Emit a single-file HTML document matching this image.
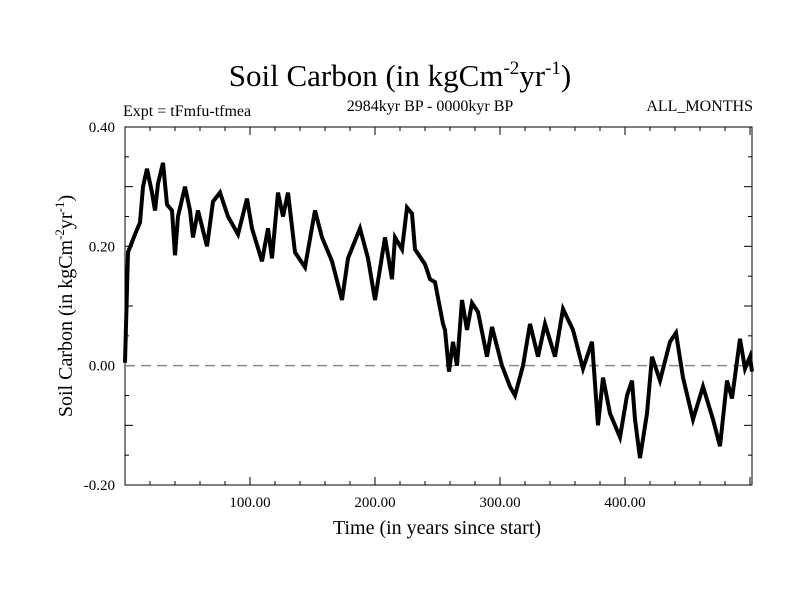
<!DOCTYPE html>
<html><head><meta charset="utf-8"><style>
body{margin:0;background:#fff}
svg{display:block;font-family:"Liberation Serif",serif}
</style></head><body>
<svg id="chart" width="800" height="600" viewBox="0 0 800 600">
<text x="400" y="86" text-anchor="middle" font-size="31">Soil Carbon (in kgCm<tspan dy="-12" font-size="19">-2</tspan><tspan dy="12">yr</tspan><tspan dy="-12" font-size="19">-1</tspan><tspan dy="12">)</tspan></text>
<text x="123" y="116" font-size="16">Expt = tFmfu-tfmea</text>
<text x="430" y="111" text-anchor="middle" font-size="16">2984kyr BP - 0000kyr BP</text>
<text x="753" y="111" text-anchor="end" font-size="16">ALL_MONTHS</text>
<g id="axes"></g>
<g id="plot"></g>
<text x="437" y="534" text-anchor="middle" font-size="20">Time (in years since start)</text>
<text transform="translate(72,306) rotate(-90)" text-anchor="middle" font-size="20">Soil Carbon (in kgCm<tspan dy="-8" font-size="13">-2</tspan><tspan dy="8">yr</tspan><tspan dy="-8" font-size="13">-1</tspan><tspan dy="8">)</tspan></text>
</svg>
<script>
const years=[0,2.4,8,12,14.4,17.6,21.6,24,26.4,30.4,33.6,37.6,40,42.4,48,52,54.4,58.4,65.6,70.4,76,82.4,90.4,97.6,101.6,109.6,114.4,117.6,122.4,126.4,130.4,136,144,152,157.6,165.6,173.6,178.4,188,194.4,200,208,213.6,216,221.6,225.6,229.6,232,240,244,248,254.4,256,259.2,262.4,265.6,269.6,273.6,277.6,282.4,289.6,293.6,301.6,308,312,318.4,324,330.4,336,344,350.4,358.4,366.4,373.6,378.4,382.4,388,396,401.6,405.6,408,412,417.6,421.6,428,436,440.8,446.4,454.4,462.4,470.4,476,481.6,485.6,492,496,500,501.6];
const carbon=[0.005,0.19,0.22,0.24,0.30,0.33,0.29,0.26,0.305,0.34,0.27,0.26,0.185,0.25,0.30,0.26,0.215,0.26,0.20,0.275,0.29,0.25,0.22,0.28,0.23,0.175,0.23,0.18,0.29,0.25,0.29,0.19,0.165,0.26,0.215,0.175,0.11,0.18,0.23,0.18,0.11,0.215,0.145,0.215,0.195,0.265,0.255,0.195,0.17,0.145,0.14,0.07,0.06,-0.01,0.04,0.0,0.11,0.06,0.105,0.09,0.015,0.065,0.0,-0.035,-0.05,0.0,0.07,0.015,0.07,0.015,0.095,0.06,-0.005,0.04,-0.1,-0.02,-0.08,-0.12,-0.05,-0.025,-0.09,-0.155,-0.08,0.015,-0.025,0.04,0.055,-0.02,-0.09,-0.035,-0.09,-0.135,-0.025,-0.055,0.045,-0.005,0.015,-0.01];
const yTicks=[0.4,0.2,0.0,-0.2];
const yTickLabels=["0.40","0.20","0.00","-0.20"];
const xTicks=[100,200,300,400];
const xTickLabels=["100.00","200.00","300.00","400.00"];
const L=125,R=752,T=127,B=485,X0=0,X1=501.6,Y0=-0.2,Y1=0.4;
const sx=v=>L+(v-X0)/(X1-X0)*(R-L);
const sy=v=>B-(v-Y0)/(Y1-Y0)*(B-T);
const NS="http://www.w3.org/2000/svg";
const axes=document.getElementById('axes'),plot=document.getElementById('plot');
function mk(tag,attrs,parent){const e=document.createElementNS(NS,tag);for(const k in attrs)e.setAttribute(k,attrs[k]);parent.appendChild(e);return e;}
const frame=mk('rect',{x:L,y:T,width:R-L,height:B-T,fill:'none',stroke:'#000','stroke-width':1},axes);


for(let v=20;v<X1;v+=20){const big=v%100===0;
 mk('line',{x1:sx(v),x2:sx(v),y1:B,y2:B-(big?8:4),stroke:'#000'},axes);
 mk('line',{x1:sx(v),x2:sx(v),y1:T,y2:T+(big?8:4),stroke:'#000'},axes);}
for(let i=-4;i<=8;i++){const v=i*0.05;const big=i%2===0;
 mk('line',{x1:L,x2:L+(big?8:4),y1:sy(v),y2:sy(v),stroke:'#000'},axes);
 mk('line',{x1:R,x2:R-(big?8:4),y1:sy(v),y2:sy(v),stroke:'#000'},axes);}
yTicks.forEach((v,i)=>{const t=mk('text',{x:L-10,y:sy(v)+5,'text-anchor':'end','font-size':15},axes);t.textContent=yTickLabels[i];
 
 });
xTicks.forEach((v,i)=>{const t=mk('text',{x:sx(v),y:507,'text-anchor':'middle','font-size':15},axes);t.textContent=xTickLabels[i];
 
 });
const zl=mk('line',{x1:L,x2:R,y1:sy(0),y2:sy(0),stroke:'#888','stroke-width':1.5,'stroke-dasharray':'10,6'},plot);


const pts=years.map((x,i)=>sx(x).toFixed(1)+','+sy(carbon[i]).toFixed(1)).join(' ');
const pl=mk('polyline',{points:pts,fill:'none',stroke:'#000','stroke-width':4,'stroke-linejoin':'miter'},plot);


</script>
</body></html>
